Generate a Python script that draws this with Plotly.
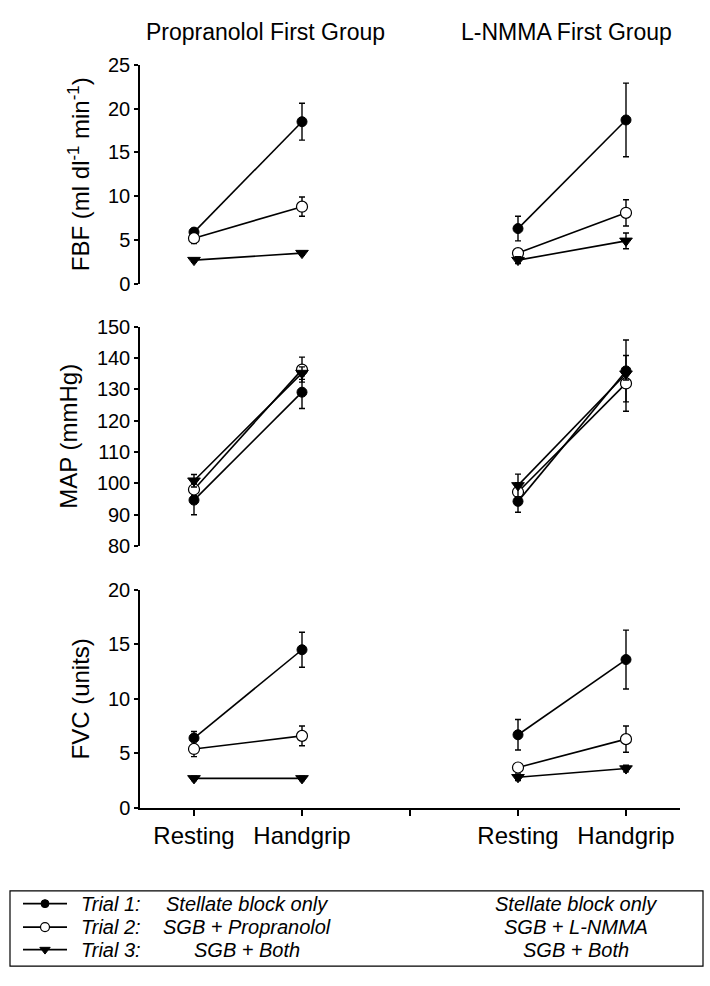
import plotly.graph_objects as go

# ---------------- data ----------------
groups = ["Propranolol First Group", "L-NMMA First Group"]
conditions = ["Resting", "Handgrip"]
trials = ["Trial 1:", "Trial 2:", "Trial 3:"]

# FBF (ml dl-1 min-1): [trial] -> [resting, handgrip]
fbf_prop = [[5.9, 18.5], [5.2, 8.8], [2.7, 3.5]]
fbf_prop_err = [[0.3, 2.1], [0.6, 1.1], [0.2, 0.2]]
fbf_lnmma = [[6.3, 18.7], [3.5, 8.1], [2.7, 4.9]]
fbf_lnmma_err = [[1.4, 4.2], [0.4, 1.5], [0.4, 0.9]]

# MAP (mmHg)
map_prop = [[94.6, 129.1], [98.0, 136.3], [100.8, 135.2]]
map_prop_err = [[4.7, 5.2], [2.0, 4.0], [2.0, 2.0]]
map_lnmma = [[94.2, 135.9], [97.2, 131.9], [99.3, 135.0]]
map_lnmma_err = [[3.5, 9.9], [3.0, 8.9], [3.6, 2.0]]

# FVC (units)
fvc_prop = [[6.4, 14.5], [5.4, 6.6], [2.7, 2.7]]
fvc_prop_err = [[0.6, 1.6], [0.7, 0.9], [0.2, 0.2]]
fvc_lnmma = [[6.7, 13.6], [3.7, 6.3], [2.8, 3.6]]
fvc_lnmma_err = [[1.4, 2.7], [0.3, 1.2], [0.3, 0.3]]

# x category slots on the shared axis (gap slot between the two groups)
x_slots = ["Resting", "Handgrip", "", "Resting", "Handgrip"]
group_slot_index = [[0, 1], [3, 4]]

y_titles = ["FBF (ml dl<sup>-1</sup> min<sup>-1</sup>)", "MAP (mmHg)", "FVC (units)"]
y_ranges = [[0, 25], [80, 150], [0, 20]]
y_dtick = [5, 10, 5]

legend_desc_left = ["Stellate block only", "SGB + Propranolol", "SGB + Both"]
legend_desc_right = ["Stellate block only", "SGB + L-NMMA", "SGB + Both"]

# ---------------- styling ----------------
W, H = 710, 986
FONT = "Liberation Sans, Arial, Helvetica, sans-serif"
marker_styles = [
    dict(symbol="circle", color="black", size=10, line=dict(color="black", width=1)),
    dict(symbol="circle", color="white", size=11, line=dict(color="black", width=1.2)),
    dict(symbol="triangle-down", color="black", size=11, line=dict(color="black", width=1)),
]

panels = [
    (fbf_prop, fbf_prop_err, fbf_lnmma, fbf_lnmma_err),
    (map_prop, map_prop_err, map_lnmma, map_lnmma_err),
    (fvc_prop, fvc_prop_err, fvc_lnmma, fvc_lnmma_err),
]

def px_x(p):
    return p / W

def px_y(p):
    return 1 - p / H

# pixel geometry -> paper domains
x_dom = [px_x(140), px_x(680)]
row_px = [(55, 279), (323, 547), (592, 815)]
y_doms = [[px_y(b), px_y(t)] for t, b in row_px]

fig = go.Figure()

for r, (pv, pe, lv, le) in enumerate(panels):
    xa = "x" if r == 0 else f"x{r+1}"
    ya = "y" if r == 0 else f"y{r+1}"
    for g, (vals, errs) in enumerate([(pv, pe), (lv, le)]):
        xs = [group_slot_index[g][i] + 1 for i in range(len(conditions))]
        for t in range(len(trials)):
            fig.add_trace(go.Scatter(
                x=xs, y=vals[t], xaxis=xa, yaxis=ya,
                mode="lines+markers",
                line=dict(color="black", width=1.6),
                marker=marker_styles[t],
                error_y=dict(type="data", array=errs[t], visible=True,
                             color="black", thickness=1.4, width=3),
                showlegend=False, hoverinfo="skip",
            ))

layout = dict(
    width=W, height=H,
    margin=dict(l=0, r=0, t=0, b=0),
    paper_bgcolor="white", plot_bgcolor="rgba(0,0,0,0)",
    font=dict(family=FONT, color="black", size=20),
    showlegend=False,
)

for r in range(3):
    xk = "xaxis" if r == 0 else f"xaxis{r+1}"
    yk = "yaxis" if r == 0 else f"yaxis{r+1}"
    ya = "y" if r == 0 else f"y{r+1}"
    xa = "x" if r == 0 else f"x{r+1}"
    bottom = (r == 2)
    layout[xk] = dict(
        domain=x_dom, anchor=ya, range=[0.5, len(x_slots) + 0.5],
        showgrid=False, zeroline=False,
        showline=bottom, linecolor="black", linewidth=1.5,
        ticks="outside" if bottom else "", ticklen=6, tickwidth=1.5, tickcolor="black",
        tickmode="array",
        tickvals=list(range(1, len(x_slots) + 1)),
        ticktext=x_slots if bottom else [""] * len(x_slots),
        showticklabels=bottom,
        tickfont=dict(size=24, family=FONT),
    )
    layout[yk] = dict(
        domain=y_doms[r], anchor=xa, range=y_ranges[r], dtick=y_dtick[r],
        showgrid=False, zeroline=False,
        showline=True, linecolor="black", linewidth=1.5,
        ticks="outside", ticklen=4, tickwidth=1.5, tickcolor="black",
        tickfont=dict(size=20, family=FONT),
        title=dict(text=y_titles[r], font=dict(size=24, family=FONT), standoff=12),
    )

# legend axes in pixel space (for legend line+marker samples)
layout["xaxis4"] = dict(domain=[0, 1], range=[0, W], visible=False, anchor="y4")
layout["yaxis4"] = dict(domain=[0, 1], range=[H, 0], visible=False, anchor="x4")

fig.update_layout(**layout)

# group titles
title_x = [265, 566]
for g, name in enumerate(groups):
    fig.add_annotation(text=name, x=px_x(title_x[g]), y=px_y(21), xref="paper", yref="paper",
                       showarrow=False, font=dict(size=23, family=FONT),
                       xanchor="center", yanchor="middle")

# legend box
fig.add_shape(type="rect", x0=px_x(10), x1=px_x(703), y0=px_y(900), y1=px_y(977),
              xref="paper", yref="paper",
              line=dict(color="black", width=1.2), fillcolor="rgba(0,0,0,0)")

row_y = [913, 937, 960]
for t in range(3):
    fig.add_trace(go.Scatter(
        x=[23, 45, 67], y=[row_y[t]] * 3, xaxis="x4", yaxis="y4",
        mode="lines", line=dict(color="black", width=1.6),
        showlegend=False, hoverinfo="skip"))
    ms = dict(marker_styles[t])
    ms["size"] = ms["size"] - 2
    fig.add_trace(go.Scatter(
        x=[45], y=[row_y[t]], xaxis="x4", yaxis="y4",
        mode="markers", marker=ms, showlegend=False, hoverinfo="skip"))
    fig.add_annotation(text=f"<i>{trials[t]}</i>", x=px_x(79), y=px_y(row_y[t]),
                       xref="paper", yref="paper",
                       showarrow=False, xanchor="left", yanchor="middle",
                       font=dict(size=20, family=FONT))
    fig.add_annotation(text=f"<i>{legend_desc_left[t]}</i>", x=px_x(247), y=px_y(row_y[t]),
                       xref="paper", yref="paper", showarrow=False,
                       xanchor="center", yanchor="middle", font=dict(size=20, family=FONT))
    fig.add_annotation(text=f"<i>{legend_desc_right[t]}</i>", x=px_x(576), y=px_y(row_y[t]),
                       xref="paper", yref="paper", showarrow=False,
                       xanchor="center", yanchor="middle", font=dict(size=20, family=FONT))

fig.write_html("out.html", config={"displayModeBar": False},
               post_script="document.body.style.margin='0';")
